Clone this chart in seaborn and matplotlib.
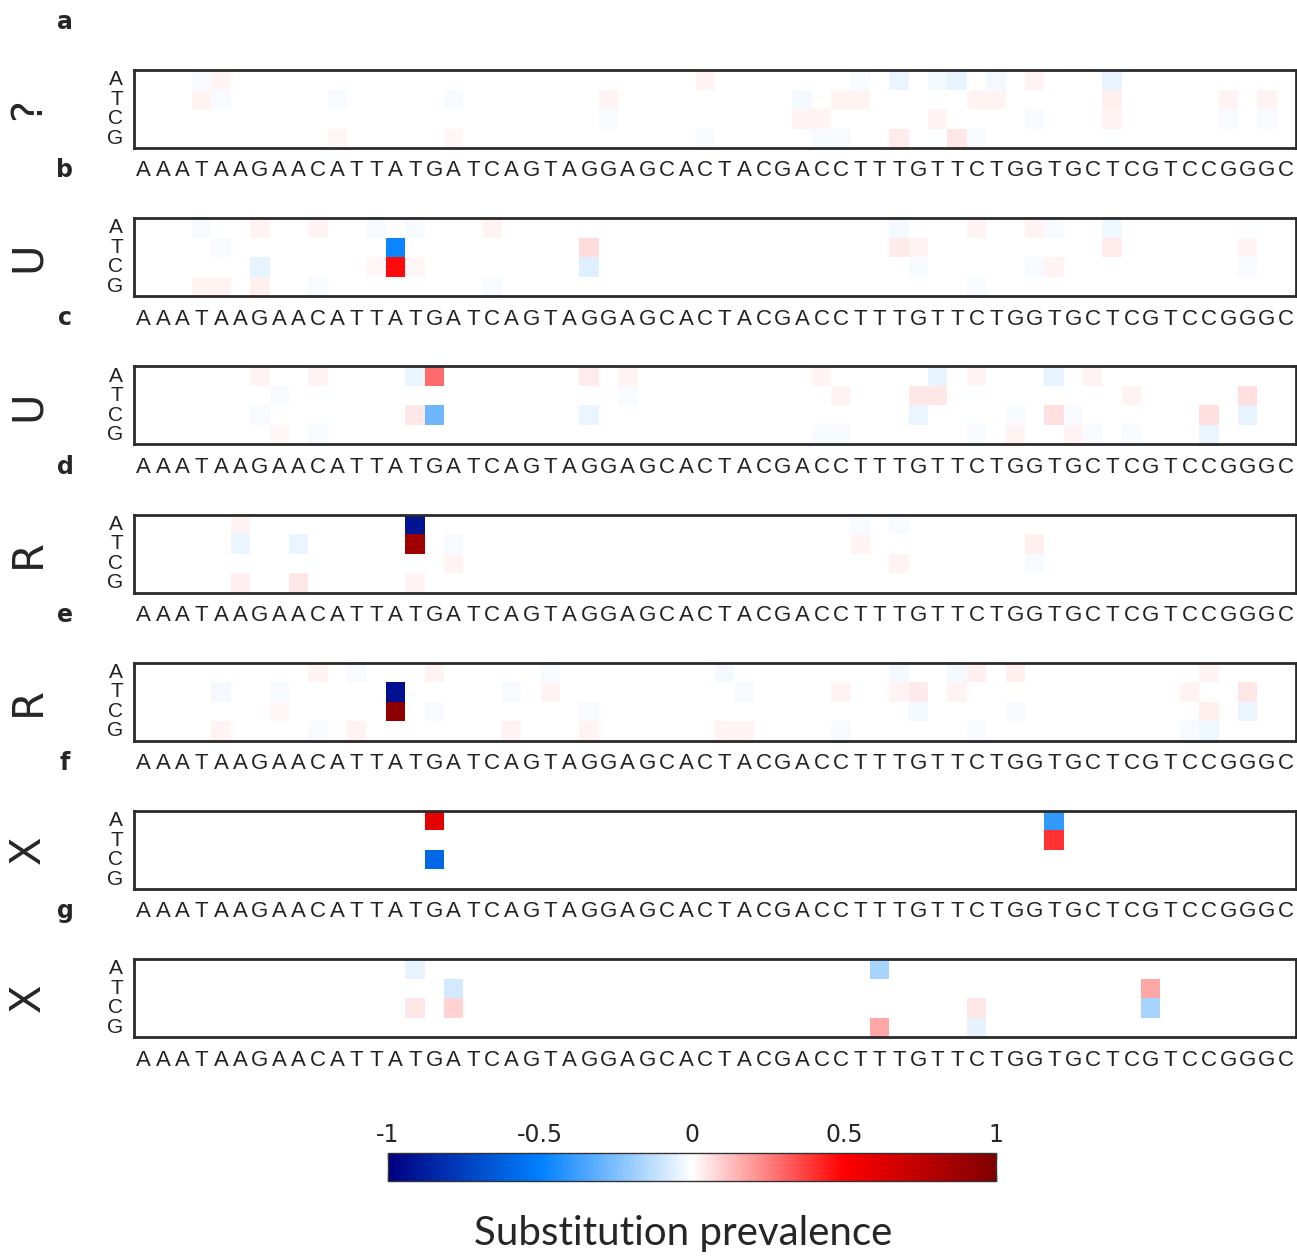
import numpy as np
import pandas as pd
import matplotlib
matplotlib.use("Agg")
import matplotlib.pyplot as plt
import seaborn as sns
from matplotlib.colors import LinearSegmentedColormap

sns.set_style("white")
plt.rcParams['font.family'] = ['DejaVu Sans']

# ---------------- data ----------------
sequence = "AAATAAGAACATTATGATCAGTAGGAGCACTACGACCTTTGTTCTGGTGCTCGTCCGGGC"
bases = ["A", "T", "C", "G"]
panel_letters = ["a", "b", "c", "d", "e", "f", "g"]
panel_names = ["?", "U", "U", "R", "R", "X", "X"]
cbar_ticks = [-1, -0.5, 0, 0.5, 1]
cbar_ticklabels = ["-1", "-0.5", "0", "0.5", "1"]
cbar_label = "Substitution prevalence"

# (base, position index, substitution prevalence)
cells_a = [("A", 3, -0.015), ("T", 3, 0.02), ("A", 4, 0.02), ("T", 4, -0.015),
           ("T", 10, -0.015), ("G", 10, 0.015), ("T", 16, -0.015), ("G", 16, 0.015),
           ("T", 24, 0.025), ("C", 24, -0.015), ("A", 29, 0.02), ("G", 29, -0.015),
           ("T", 34, -0.025), ("C", 34, 0.025), ("C", 35, 0.02), ("G", 35, -0.015),
           ("T", 36, 0.02), ("G", 36, -0.015), ("A", 37, -0.015), ("T", 37, 0.02),
           ("A", 39, -0.04), ("G", 39, 0.04), ("A", 41, -0.02), ("C", 41, 0.025),
           ("A", 42, -0.05), ("G", 42, 0.045), ("T", 43, 0.02), ("G", 43, -0.015),
           ("A", 44, -0.02), ("T", 44, 0.02), ("A", 46, 0.02), ("C", 46, -0.015),
           ("A", 50, -0.05), ("T", 50, 0.03), ("C", 50, 0.025),
           ("T", 56, 0.025), ("C", 56, -0.015), ("T", 58, 0.025), ("C", 58, -0.015)]
cells_b = [("A", 3, -0.015), ("G", 3, 0.02), ("T", 4, -0.015), ("G", 4, 0.02),
           ("A", 6, 0.02), ("C", 6, -0.05), ("G", 6, 0.03), ("A", 9, 0.02), ("G", 9, -0.015),
           ("A", 12, -0.015), ("C", 12, 0.015), ("T", 13, -0.48), ("C", 13, 0.48),
           ("A", 14, -0.015), ("C", 14, 0.015), ("A", 18, 0.02), ("G", 18, -0.015),
           ("T", 23, 0.07), ("C", 23, -0.06), ("A", 39, -0.02), ("T", 39, 0.04),
           ("T", 40, 0.02), ("C", 40, -0.015), ("A", 43, 0.02), ("G", 43, -0.015),
           ("A", 46, 0.02), ("C", 46, -0.015), ("A", 47, -0.015), ("C", 47, 0.02),
           ("A", 50, -0.03), ("T", 50, 0.04), ("T", 57, 0.02), ("C", 57, -0.015)]
cells_c = [("A", 6, 0.02), ("C", 6, -0.015), ("T", 7, -0.015), ("G", 7, 0.015),
           ("A", 9, 0.02), ("G", 9, -0.015), ("A", 14, -0.04), ("C", 14, 0.05),
           ("A", 15, 0.29), ("C", 15, -0.28), ("A", 23, 0.04), ("C", 23, -0.04),
           ("A", 25, 0.025), ("T", 25, -0.015), ("A", 35, 0.02), ("G", 35, -0.015),
           ("T", 36, 0.02), ("G", 36, -0.015), ("T", 40, 0.05), ("C", 40, -0.04),
           ("A", 41, -0.05), ("T", 41, 0.05), ("A", 43, 0.02), ("G", 43, -0.015),
           ("C", 45, -0.015), ("G", 45, 0.025), ("A", 47, -0.05), ("C", 47, 0.06),
           ("C", 48, -0.015), ("G", 48, 0.02), ("A", 49, 0.02), ("G", 49, -0.015),
           ("T", 51, 0.02), ("G", 51, -0.015), ("C", 55, 0.06), ("G", 55, -0.04),
           ("T", 57, 0.06), ("C", 57, -0.05)]
cells_d = [("A", 5, 0.02), ("T", 5, -0.04), ("G", 5, 0.03), ("T", 8, -0.04), ("G", 8, 0.05),
           ("A", 14, -0.92), ("T", 14, 0.88), ("G", 14, 0.02),
           ("T", 16, -0.015), ("C", 16, 0.02), ("A", 37, -0.015), ("T", 37, 0.025),
           ("A", 39, -0.015), ("C", 39, 0.02), ("T", 46, 0.03), ("C", 46, -0.015)]
cells_e = [("T", 4, -0.02), ("G", 4, 0.025), ("T", 7, -0.015), ("C", 7, 0.015),
           ("A", 9, 0.025), ("G", 9, -0.015), ("A", 11, -0.015), ("G", 11, 0.02),
           ("T", 13, -0.93), ("C", 13, 0.94), ("A", 15, 0.025), ("C", 15, -0.015),
           ("T", 19, -0.015), ("G", 19, 0.02), ("A", 21, -0.015), ("T", 21, 0.025),
           ("C", 23, -0.015), ("G", 23, 0.02), ("A", 30, -0.02), ("G", 30, 0.025),
           ("T", 31, -0.015), ("G", 31, 0.025), ("T", 36, 0.025), ("G", 36, -0.015),
           ("A", 39, -0.02), ("T", 39, 0.025), ("T", 40, 0.04), ("C", 40, -0.02),
           ("A", 42, -0.025), ("T", 42, 0.025), ("A", 43, 0.03), ("G", 43, -0.015),
           ("A", 45, 0.03), ("C", 45, -0.015), ("T", 54, 0.02), ("G", 54, -0.015),
           ("A", 55, 0.025), ("C", 55, 0.03), ("G", 55, -0.03),
           ("T", 57, 0.045), ("C", 57, -0.04)]
cells_f = [("A", 15, 0.6), ("C", 15, -0.6), ("A", 47, -0.4), ("T", 47, 0.4)]
cells_g = [("A", 14, -0.045), ("C", 14, 0.045), ("T", 16, -0.085), ("C", 16, 0.085),
           ("A", 38, -0.17), ("G", 38, 0.17), ("C", 43, 0.045), ("G", 43, -0.045),
           ("T", 52, 0.17), ("C", 52, -0.17)]

panel_cells = [cells_a, cells_b, cells_c, cells_d, cells_e, cells_f, cells_g]

# ---------------- style ----------------
cmap = LinearSegmentedColormap.from_list(
    "subst", [(0.0, "#000080"), (0.25, "#0080ff"), (0.5, "#ffffff"),
              (0.75, "#ff0000"), (1.0, "#800000")], N=255)

W, H = 1297, 1256
fig = plt.figure(figsize=(W / 100, H / 100), dpi=100)

left, width, ph = 134, 1162, 78
first_top, step = 70, 148.17
mappable = None
for i, cells in enumerate(panel_cells):
    top = first_top + step * i
    ax = fig.add_axes([left / W, 1 - (top + ph) / H, width / W, ph / H])
    mat = np.zeros((len(bases), len(sequence)))
    for b, pos, val in cells:
        mat[bases.index(b), pos] = val
    df = pd.DataFrame(mat, index=bases, columns=list(range(len(sequence))))
    sns.heatmap(df, ax=ax, cmap=cmap, vmin=-1, vmax=1, cbar=False,
                xticklabels=list(sequence), yticklabels=bases)
    mappable = ax.collections[0]
    ax.set_xticklabels(list(sequence), rotation=0, fontsize=16,
                       family="Liberation Sans", color="#222222")
    ax.set_yticklabels(bases, rotation=0, fontsize=15,
                       family="Liberation Sans", color="#222222")
    ax.tick_params(axis="x", length=0, pad=9)
    ax.tick_params(axis="y", length=0, pad=8)
    for s in ax.spines.values():
        s.set_visible(True)
        s.set_linewidth(2)
        s.set_color("#2a2a2a")
    ax.set_xlabel("")
    ax.set_ylabel("")
    fig.text(28 / W, 1 - (top + 39) / H, panel_names[i], rotation=90,
             fontsize=30, ha="center", va="center")
    fig.text(65 / W, 1 - (top - 48) / H, panel_letters[i], fontweight="bold",
             fontsize=17, ha="center", va="center")

cax = fig.add_axes([388 / W, 1 - 1181 / H, 608 / W, 28 / H])
cb = fig.colorbar(mappable, cax=cax, orientation="horizontal", ticks=cbar_ticks)
cax.xaxis.set_ticks_position("both")
cax.xaxis.set_label_position("top")
cax.tick_params(axis="x", direction="in", length=5, width=1, color="#333333",
                labeltop=True, labelbottom=False, labelsize=17, pad=4)
cax.set_xticklabels(cbar_ticklabels)
cb.outline.set_linewidth(1)
cb.outline.set_edgecolor("#333333")
fig.text(683 / W, 1 - 1233 / H, cbar_label, fontsize=29, family="Lato",
         ha="center", va="center")

fig.savefig("out.png", dpi=100)
